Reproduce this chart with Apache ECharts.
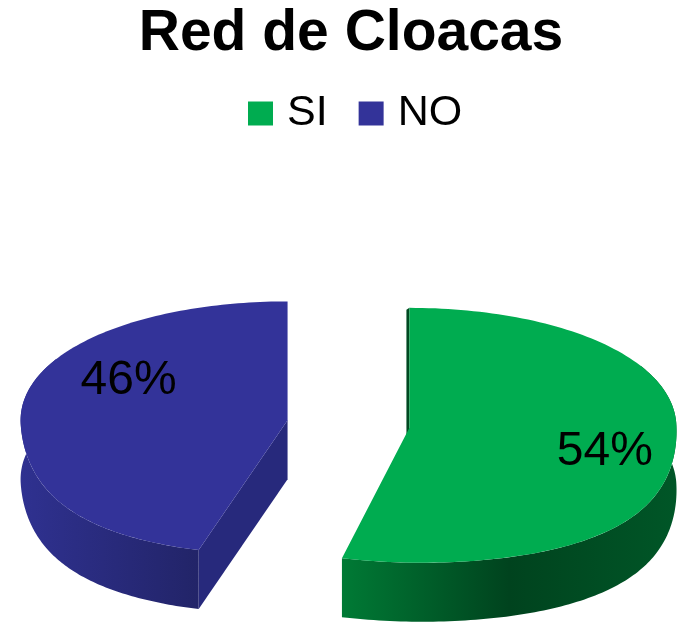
<!DOCTYPE html>
<html>
<head>
<meta charset="utf-8">
<script src="https://cdn.jsdelivr.net/npm/echarts@6/dist/echarts.min.js"></script>
<style>
  html, body { margin: 0; padding: 0; background: #fff; }
  #chart { width: 677px; height: 622px; }
</style>
</head>
<body>
<div id="chart"></div>
<script>
// ---- data ----
const categories = ['SI', 'NO'];
const values = [54, 46];
const chartTitle = 'Red de Cloacas';

// ---- styles / layout (not data) ----
const topColors = ['#00AC50', '#333399'];
const sideStops = [
  [[0, '#007A35'], [0.5, '#00431E'], [1, '#005627']],
  [[0, '#2F3190'], [1, '#222468']]
];
const radialColor = ['#004A21', '#27297C'];
const CX = 348.5, CY = 424, RX = 267, RY = 127;
const PY = 0.06, PX_FRONT = 0.2;
const DEPTH = 59;
const EXPLODE = 0.23;
const LABEL_R = [0.735, 0.6];
const LABEL_DY = [12, -30];

function proj(U, V, dz) {
  const fx = 1 + (V > 0 ? PX_FRONT * V * V : 0);
  return [CX + RX * U * fx, CY + RY * V * (1 + PY * V) + dz];
}

function makeRender(idx) {
  return function (params, api) {
    const total = values.reduce((a, b) => a + b, 0);
    let before = 0;
    for (let k = 0; k < idx; k++) before += values[k];
    const val = api.value(0);
    const a0 = before / total * 2 * Math.PI;
    const a1 = (before + val) / total * 2 * Math.PI;
    const mid = (a0 + a1) / 2;
    const ou = EXPLODE * Math.sin(mid), ov = -EXPLODE * Math.cos(mid);
    const N = 140;
    const children = [];

    // outer side face (front part, extended slightly so the silhouette is closed;
    // the back parts are hidden by the top face drawn afterwards)
    const s0 = Math.max(a0, Math.PI / 3), s1 = Math.min(a1, 5 * Math.PI / 3);
    if (s1 > s0) {
      const topPts = [], botPts = [];
      for (let t = 0; t <= N; t++) {
        const th = s0 + (s1 - s0) * t / N;
        const U = ou + Math.sin(th), V = ov - Math.cos(th);
        topPts.push(proj(U, V, 0));
        botPts.push(proj(U, V, DEPTH));
      }
      const pts = topPts.concat(botPts.reverse());
      let xmin = Infinity, xmax = -Infinity;
      pts.forEach(p => { xmin = Math.min(xmin, p[0]); xmax = Math.max(xmax, p[0]); });
      children.push({
        type: 'polygon',
        shape: { points: pts },
        style: {
          fill: {
            type: 'linear', x: xmin, y: 0, x2: xmax, y2: 0, global: true,
            colorStops: sideStops[idx].map(s => ({ offset: s[0], color: s[1] }))
          }
        }
      });
    }

    const c0 = proj(ou, ov, 0), c0b = proj(ou, ov, DEPTH);

    // radial face at the start edge
    if (a0 > Math.PI / 2 && a0 < 3 * Math.PI / 2) {
      const e = proj(ou + Math.sin(a0), ov - Math.cos(a0), 0);
      const eb = proj(ou + Math.sin(a0), ov - Math.cos(a0), DEPTH);
      children.push({
        type: 'polygon',
        shape: { points: [c0, e, eb, c0b] },
        style: { fill: radialColor[idx] }
      });
    } else if (a0 === 0) {
      // near edge-on face at 12 o'clock, seen as a thin sliver
      const e = proj(ou + Math.sin(a0), ov - Math.cos(a0), 0);
      children.push({
        type: 'polygon',
        shape: { points: [e, c0, [c0b[0] - 3, c0b[1]], [e[0] - 3, e[1] + 2]] },
        style: { fill: radialColor[idx] }
      });
    }

    // top face
    const tp = [c0];
    for (let t = 0; t <= N; t++) {
      const th = a0 + (a1 - a0) * t / N;
      tp.push(proj(ou + Math.sin(th), ov - Math.cos(th), 0));
    }
    children.push({
      type: 'polygon',
      shape: { points: tp },
      style: { fill: topColors[idx] }
    });

    // label
    const lp = proj(ou + LABEL_R[idx] * Math.sin(mid), ov - LABEL_R[idx] * Math.cos(mid), 0);
    children.push({
      type: 'text',
      x: lp[0], y: lp[1] + LABEL_DY[idx],
      style: {
        text: Math.round(val / total * 100) + '%',
        fontSize: 48,
        fontFamily: 'Liberation Sans, Arial, sans-serif',
        fill: '#000',
        align: 'center',
        verticalAlign: 'middle'
      }
    });
    return { type: 'group', children: children };
  };
}

const chart = echarts.init(document.getElementById('chart'), null, { renderer: 'canvas' });
chart.setOption({
  animation: false,
  color: topColors,
  title: {
    text: chartTitle,
    left: 346,
    textAlign: 'center',
    top: 1,
    textStyle: { fontFamily: 'Liberation Sans, Arial, sans-serif', fontWeight: 'bold', fontSize: 57, color: '#000' }
  },
  legend: {
    data: categories,
    top: 92,
    left: 248,
    padding: 0,
    icon: 'rect',
    itemWidth: 25,
    itemHeight: 24,
    itemGap: 31,
    selectedMode: false,
    textStyle: { fontFamily: 'Liberation Sans, Arial, sans-serif', fontSize: 43, color: '#000', padding: [0, 0, 0, 9] }
  },
  series: categories.map((name, i) => ({
    type: 'custom',
    name: name,
    coordinateSystem: 'none',
    silent: true,
    itemStyle: { color: topColors[i] },
    data: [values[i]],
    renderItem: makeRender(i)
  }))
});
</script>
</body>
</html>
